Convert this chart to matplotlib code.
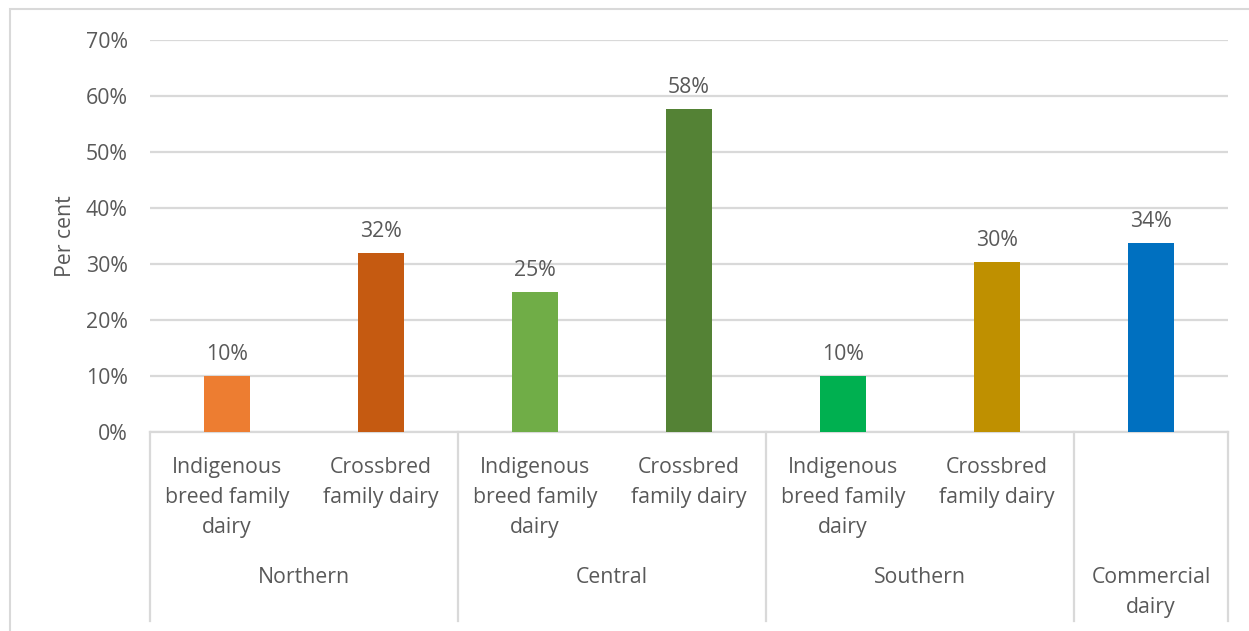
import matplotlib
matplotlib.use("Agg")
import matplotlib.pyplot as plt
from matplotlib.transforms import blended_transform_factory
from matplotlib.patches import Rectangle

categories = ["Indigenous\nbreed family\ndairy", "Crossbred\nfamily dairy",
              "Indigenous\nbreed family\ndairy", "Crossbred\nfamily dairy",
              "Indigenous\nbreed family\ndairy", "Crossbred\nfamily dairy", ""]
groups = ["Northern", "Central", "Southern", "Commercial\ndairy"]
group_spans = [(0, 1), (2, 3), (4, 5), (6, 6)]
values = [0.10, 0.32, 0.25, 0.577, 0.10, 0.304, 0.337]
value_labels = ["10%", "32%", "25%", "58%", "10%", "30%", "34%"]
colors = ["#ED7D31", "#C55A11", "#70AD47", "#548235", "#00B050", "#BF9000", "#0070C0"]
yticks = [0, 0.1, 0.2, 0.3, 0.4, 0.5, 0.6, 0.7]
ytick_labels = ["0%", "10%", "20%", "30%", "40%", "50%", "60%", "70%"]

W, H = 1249, 631
fig = plt.figure(figsize=(W / 100, H / 100), dpi=100)
FONT = "Open Sans"
TXT = "#595959"
GRID = "#D9D9D9"
FS = 15.3

x0, x1, ytop, ybot = 150, 1228, 40, 432
ax = fig.add_axes([x0 / W, 1 - ybot / H, (x1 - x0) / W, (ybot - ytop) / H])

# figure border
fig.patches.append(Rectangle((10 / W, -0.1), 1.2, 1 - 9 / H + 0.1, transform=fig.transFigure,
                             fill=False, edgecolor=GRID, linewidth=1.5))

xs = list(range(len(values)))
ax.bar(xs, values, width=0.305, color=colors, zorder=3)
ax.set_xlim(-0.5, len(values) - 0.5)
ax.set_ylim(0, 0.7)
ax.set_yticks(yticks)
ax.set_yticklabels(ytick_labels, fontfamily=FONT, fontsize=FS, color=TXT)
ax.tick_params(axis="y", length=0, pad=16)
ax.set_xticks([])
ax.grid(axis="y", color=GRID, linewidth=1.6, zorder=0)
for s in ["top", "right", "left"]:
    ax.spines[s].set_visible(False)
ax.spines["bottom"].set_color(GRID)
ax.spines["bottom"].set_linewidth(1.6)

ax.set_ylabel("Per cent", fontfamily=FONT, fontsize=FS, color=TXT, labelpad=7)

for x, v, lab in zip(xs, values, value_labels):
    ax.annotate(lab, (x, v), xytext=(0, 8), textcoords="offset points",
                ha="center", va="bottom", fontfamily=FONT, fontsize=FS, color=TXT)

def ay(py):
    return (ybot - py) / (ybot - ytop)

tr = blended_transform_factory(ax.transData, ax.transAxes)
for x, lab in zip(xs, categories):
    if lab:
        ax.text(x, ay(457), lab, transform=tr, ha="center", va="top", fontfamily=FONT,
                fontsize=FS, color=TXT, linespacing=1.57, multialignment="center")

for (a, b), g in zip(group_spans, groups):
    ax.text((a + b) / 2, ay(567), g, transform=tr, ha="center", va="top", fontfamily=FONT,
            fontsize=FS, color=TXT, linespacing=1.57, multialignment="center")

for b in [-0.5, 1.5, 3.5, 5.5, 6.5]:
    ax.plot([b, b], [0, ay(621)], transform=tr, color=GRID, linewidth=1.6, clip_on=False)

fig.savefig("out.png", dpi=100)
